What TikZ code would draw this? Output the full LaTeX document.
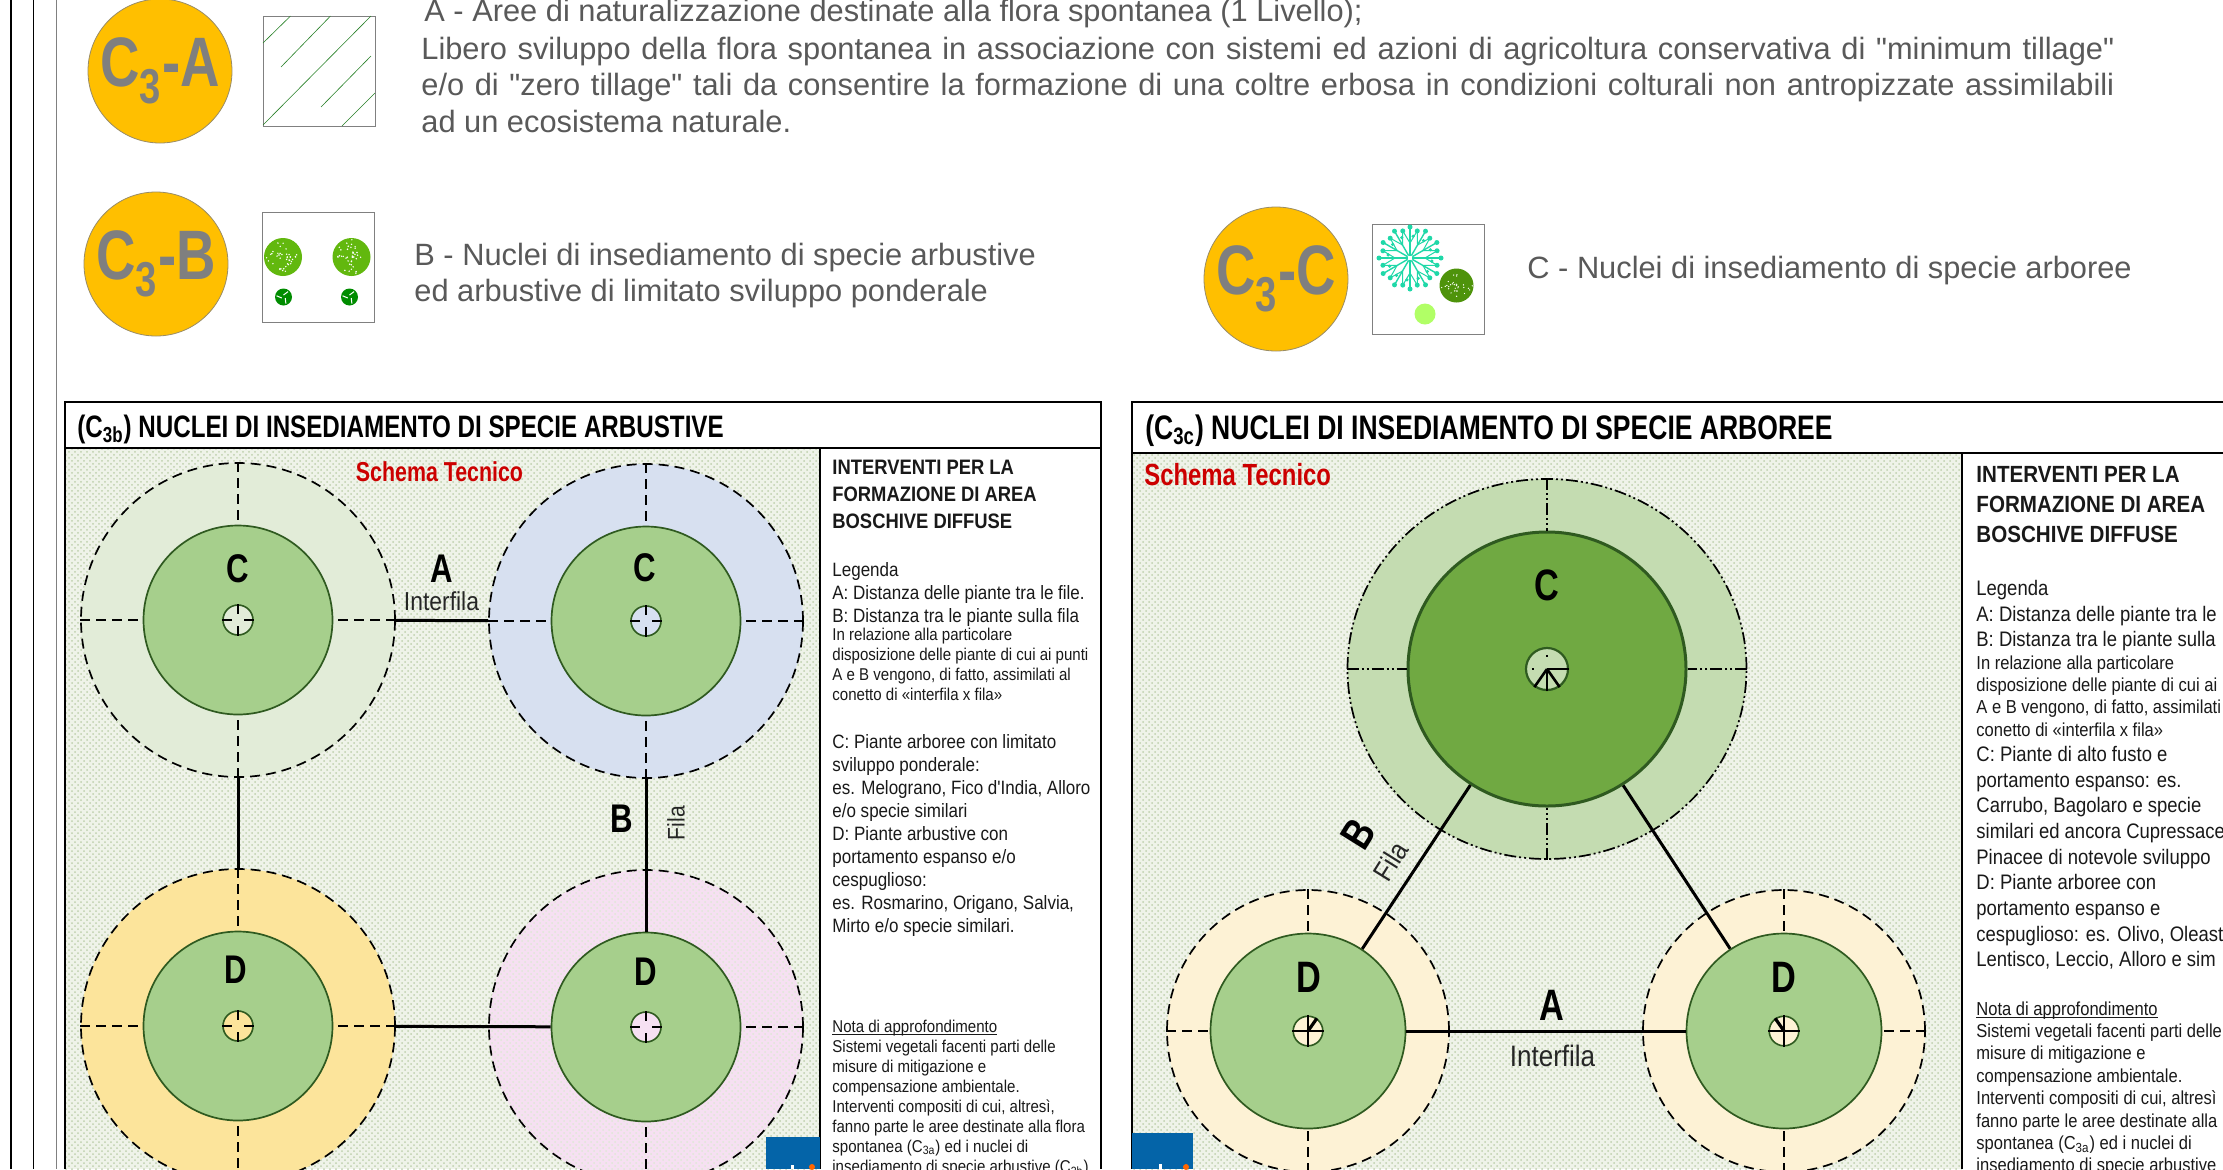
\documentclass[tikz,border=0pt]{standalone}
\usepackage{fontspec}
\setmainfont{Liberation Sans}
\newfontfamily\greyfont[Ligatures=TeXOff]{Liberation Sans}
\newfontfamily\titlefont[FakeStretch=0.78]{Liberation Sans}
\newfontfamily\sidefont[FakeStretch=0.88]{Liberation Sans}
\newfontfamily\goldfont[FakeStretch=0.78]{Liberation Sans}
\usetikzlibrary{shapes.geometric,patterns,backgrounds}
\definecolor{goldfill}{HTML}{FFBF00}
\definecolor{goldtext}{HTML}{7F7F7F}
\definecolor{greytext}{HTML}{595959}
\definecolor{paper}{HTML}{EFF3E9}
\definecolor{paperdot}{HTML}{BFD0AE}
\definecolor{innergreen}{HTML}{A6CF8C}
\definecolor{deepgreen}{HTML}{70A942}
\definecolor{edgegreen}{HTML}{2F5A20}
\definecolor{paleleaf}{HTML}{C4DCB1}
\definecolor{paleorange}{HTML}{FDF2D5}
\definecolor{leaf}{HTML}{62B80E}
\definecolor{tealtree}{HTML}{1FD8A8}
\definecolor{logoblue}{HTML}{0464A8}
\newcommand{\fsz}[2]{\fontsize{#1}{#2}\selectfont}
\newcommand{\ulnote}[1]{\setbox0\hbox{#1}\rlap{\rule[-1.1pt]{\wd0}{0.35pt}}\box0}
\tikzset{goldc/.style={circle,draw=goldtext!80!goldfill,fill=goldfill,minimum size=72pt,inner sep=0pt,text=goldtext,font=\goldfont\bfseries\fsz{35}{37}},
symbox/.style={rectangle,draw=gray,line width=0.5pt,minimum width=56pt,minimum height=55pt,inner sep=0pt},
outerc/.style={circle,draw=black,line width=0.85pt,dash pattern=on 5pt off 3pt,inner sep=0pt},
innerc/.style={circle,draw=edgegreen,fill=innergreen,line width=0.85pt,inner sep=0pt},
holec/.style={circle,draw=edgegreen,line width=0.8pt,inner sep=0pt},
crossline/.style={line width=0.85pt,dash pattern=on 5pt off 3pt},
holeline/.style={line width=0.75pt,shorten >=3pt},
solidline/.style={line width=1.5pt},
bigletter/.style={font=\titlefont\bfseries\fsz{20}{22},inner sep=0pt},
bigright/.style={font=\titlefont\bfseries\fsz{22}{24},inner sep=0pt},
smalllabel/.style={font=\sidefont\fsz{13}{15},inner sep=0pt,text=black!85},
schema/.style={font=\titlefont\bfseries\fsz{13.7}{15},text=red!80!black,inner sep=0pt},
panelhead/.style={font=\titlefont\bfseries\fsz{15.5}{18},anchor=west,inner sep=0pt},
sideblock/.style={anchor=north west,align=left,inner sep=0pt,text=black!90},
greyblock/.style={anchor=west,align=left,inner sep=0pt,text=greytext,font=\greyfont\fsz{15.4}{18.2}}}

\begin{document}
\begin{tikzpicture}[x=0.5pt,y=-0.5pt]
\useasboundingbox (0,0) rectangle (2223,1169);
\clip (0,0) rectangle (2223,1169);
\fill[white] (0,0) rectangle (2223,1169);

%page rules
\coordinate (v1a) at (11,0);  \coordinate (v1b) at (11,1169);
\coordinate (v2a) at (33.5,0);\coordinate (v2b) at (33.5,1169);
\coordinate (v3a) at (56,0);  \coordinate (v3b) at (56,1169);
\draw[line width=0.6pt] (v1a) -- (v1b);
\draw[line width=0.6pt] (v2a) -- (v2b);
\draw[line width=0.4pt,gray] (v3a) -- (v3b);

%legend a
\node[goldc] (ca) at (160,71) {C\textsubscript{3}-A};
\node[symbox] (boxa) at (319,71) {};
\draw[green!50!black!70!gray,line width=0.3pt] (263,43) -- (290.5,16) (281,67) -- (330.5,16) (263,125) -- (371,16) (321,107) -- (371,56) (342,126) -- (375,93);
\node[greyblock,anchor=base west] (ta0) at (424,21) {A - Aree di naturalizzazione destinate alla flora spontanea (1 Livello);};
\node[greyblock,anchor=base west] (ta1) at (421,59) {\makebox[846.5pt][s]{Libero sviluppo della flora spontanea in associazione con sistemi ed azioni di agricoltura conservativa di "minimum tillage"}};
\node[greyblock,anchor=base west] (ta2) at (421,95.5) {\makebox[846.5pt][s]{e/o di "zero tillage" tali da consentire la formazione di una coltre erbosa in condizioni colturali non antropizzate assimilabili}};
\node[greyblock,anchor=base west] (ta3) at (421,132) {ad un ecosistema naturale.};

%legend b
\node[goldc] (cb) at (156,264) {C\textsubscript{3}-B};
\node[symbox] (boxb) at (318.5,267.5) {};
\pgfmathsetseed{11}
\foreach \n/\x/\y in {b1/283/257,b2/351.5/257}{
  \node[circle,fill=leaf,minimum size=19pt,inner sep=0pt] (\n) at (\x,\y) {};
  \foreach \i in {1,...,40} \fill[white] ([shift={(rnd*360:rnd*18)}]\n) circle (0.8);
}
\foreach \n/\x/\y in {b3/283.5/297,b4/349.5/297}{
  \node[circle,fill=green!55!black,minimum size=8.5pt,inner sep=0pt] (\n) at (\x,\y) {};
  \foreach \a in {30,150,270} \draw[white,line width=0.5pt] ([shift={(\a:2)}]\n.center) -- ([shift={(\a+40:7)}]\n.center);
}
\node[greyblock] (tb) at (414,275.5) {B - Nuclei di insediamento di specie arbustive\\ed arbustive di limitato sviluppo ponderale};

%legend c
\node[goldc] (cc) at (1276,279) {C\textsubscript{3}-C};
\node[symbox] (boxc) at (1428,279.5) {};
\node[inner sep=0pt,minimum size=2pt] (tr) at (1410,258) {};
\foreach \a in {0,30,...,330}{
  \draw[tealtree,line width=0.7pt] (tr) -- ([shift={(\a:31)}]tr.center);
  \draw[tealtree,line width=0.5pt] ([shift={(\a:15)}]tr.center) -- ([shift={(\a+16:30)}]tr.center);
  \draw[tealtree,line width=0.5pt] ([shift={(\a:15)}]tr.center) -- ([shift={(\a-16:30)}]tr.center);
  \fill[tealtree] ([shift={(\a:31)}]tr.center) circle (2.5);
  \fill[tealtree] ([shift={(\a+15:28)}]tr.center) circle (2.5);
  \fill[tealtree] ([shift={(\a+8:22)}]tr.center) circle (1.8);
}
\node[circle,fill=leaf!80!black,minimum size=17pt,inner sep=0pt] (bl) at (1456.5,285.5) {};
\foreach \i in {1,...,30} \fill[white] ([shift={(rnd*360:rnd*16)}]bl) circle (0.7);
\node[circle,fill=green!35!lime!60!white,minimum size=10.5pt,inner sep=0pt] (bc) at (1425,314) {};
\node[greyblock] (tc) at (1527,271) {C - Nuclei di insediamento di specie arboree};

%left panel
\fill[paper] (65,448) rectangle (820,1169);
\fill[pattern=crosshatch dots,pattern color=paperdot] (65,448) rectangle (820,1169);
\draw[line width=0.8pt] (65,1169) -- (65,402) -- (1101,402) -- (1101,1169);
\draw[line width=0.8pt] (65,448) -- (1101,448);
\draw[line width=0.8pt] (820,448) -- (820,1169);
\node[panelhead] (h1) at (77,429) {(C\textsubscript{3b}) NUCLEI DI INSEDIAMENTO DI SPECIE ARBUSTIVE};
\node[schema] (s1) at (439.5,472) {Schema Tecnico};

\fill[logoblue] (766,1137) rectangle (820,1169);
\fill[white] (790.5,1165) rectangle (793.5,1169);
\fill[orange!80!red] (812,1167) circle (3);

\foreach \n/\x/\y/\c in {l1/238/620/E2ECD8,l2/646/621/D7E0F0,l3/238/1026/FCE49B,l4/646/1027/F6E0F2}{
  \definecolor{ringfill}{HTML}{\c}
  \node[outerc,fill=ringfill,minimum size=157pt] (\n) at (\x,\y) {};
}
\node[circle,pattern=crosshatch dots,pattern color=paperdot!50!white,minimum size=156pt,inner sep=0pt] (l4t) at (646,1027) {};
\foreach \n/\x/\y in {l1/238/620,l2/646/621,l3/238/1026,l4/646/1027}{
  \node[innerc,minimum size=94.5pt] (\n i) at (\x,\y) {};
}
\foreach \n/\x/\y/\c in {l1/238/620/E2ECD8,l2/646/621/D7E0F0,l3/238/1026/FCE49B,l4/646/1027/F6E0F2}{
  \definecolor{ringfill}{HTML}{\c}
  \node[holec,fill=ringfill,minimum size=15pt] (\n h) at (\x,\y) {};
  \foreach \p in {north,south,east,west}{
    \draw[crossline] (\n.\p) -- (\n i.\p);
    \draw[holeline] (\n h.\p) -- (\n h.center);
  }
}
\draw[solidline] (l1) -- (l2);
\draw[solidline] (l1) -- (l3);
\draw[solidline] (l2) -- (l4i);
\draw[solidline] (l3) -- (l4i);
\node[bigletter] (a1) at (441.5,569) {A};
\node[smalllabel] (a2) at (441.5,601) {Interfila};
\node[bigletter] (c1) at (237.5,569) {C};
\node[bigletter] (c2) at (644.5,568) {C};
\node[bigletter] (d1) at (235.5,970) {D};
\node[bigletter] (d2) at (645.5,972) {D};
\node[bigletter] (b1l) at (622,819) {B};
\node[smalllabel,font=\sidefont\fsz{12}{14},rotate=90] (f1) at (676,823) {Fila};

%left panel side text
\node[sideblock,font=\sidefont\bfseries\fsz{10.45}{13.5}] (sh1) at (832,460) {INTERVENTI PER LA\\FORMAZIONE DI AREA\\BOSCHIVE DIFFUSE};
\node[sideblock,font=\sidefont\fsz{9.66}{11.5}] (sl1) at (832,562) {Legenda\\A: Distanza delle piante tra le file.\\B: Distanza tra le piante sulla fila};
\node[sideblock,font=\sidefont\fsz{8.55}{10}] (sm1) at (832,628) {In relazione alla particolare\\disposizione delle piante di cui ai punti\\A e B vengono, di fatto, assimilati al\\conetto di «interfila x fila»};
\node[sideblock,font=\sidefont\fsz{9.66}{11.5}] (sc1) at (832,734) {C: Piante arboree con limitato\\sviluppo ponderale:\\es. Melograno, Fico d'India, Alloro\\e/o specie similari\\D: Piante arbustive con\\portamento espanso e/o\\cespuglioso:\\es. Rosmarino, Origano, Salvia,\\Mirto e/o specie similari.};
\node[sideblock,font=\sidefont\fsz{8.55}{10}] (sn1) at (832,1020) {\ulnote{Nota di approfondimento}\\Sistemi vegetali facenti parti delle\\misure di mitigazione e\\compensazione ambientale.\\Interventi compositi di cui, altresì,\\fanno parte le aree destinate alla flora\\spontanea (C\textsubscript{3a}) ed i nuclei di\\insediamento di specie arbustive (C\textsubscript{3b})};

%right panel
\fill[paper] (1132,453) rectangle (1962,1169);
\fill[pattern=crosshatch dots,pattern color=paperdot] (1132,453) rectangle (1962,1169);
\draw[line width=0.8pt] (1132,1169) -- (1132,402) -- (2223,402);
\draw[line width=0.8pt] (1132,453) -- (2223,453);
\draw[line width=0.8pt] (1962,453) -- (1962,1169);
\node[panelhead,font=\titlefont\bfseries\fsz{17}{19}] (h2) at (1145,431) {(C\textsubscript{3c}) NUCLEI DI INSEDIAMENTO DI SPECIE ARBOREE};
\node[schema,font=\titlefont\bfseries\fsz{15.3}{17},anchor=west] (s2) at (1144,474.5) {Schema Tecnico};

\fill[logoblue] (1132,1133) rectangle (1193,1169);
\fill[white] (1158.5,1164) rectangle (1161.5,1169);
\fill[orange!80!red] (1186,1167) circle (3);

\node[ellipse,draw=black,line width=0.85pt,dash pattern=on 6pt off 1.5pt on 1pt off 1.5pt on 1pt off 1.5pt,fill=paleleaf,inner sep=0pt,minimum width=199.5pt,minimum height=190pt] (r1) at (1547,669) {};
\node[ellipse,draw=edgegreen,fill=deepgreen,line width=1.5pt,inner sep=0pt,minimum width=139pt,minimum height=137pt] (r1i) at (1547,669) {};
\node[holec,line width=1.1pt,fill=paleleaf,minimum size=21pt] (r1h) at (1547,669) {};
\foreach \n/\x in {r2/1308,r3/1784}{
  \node[outerc,fill=paleorange,minimum size=141pt] (\n) at (\x,1031) {};
  \node[innerc,minimum size=97.5pt] (\n i) at (\x,1031) {};
  \node[holec,fill=paleorange,minimum size=14.8pt] (\n h) at (\x,1031) {};
  \foreach \p in {north,south,east,west} \draw[crossline] (\n.\p) -- (\n i.\p);
  \draw[line width=0.9pt] (\n h.west) -- (\n h.east);
  \draw[line width=0.7pt] (\n h.north) -- (\n h.south);
}
\draw[line width=1.6pt] (r2h.center) -- (r2h.55);
\draw[line width=1.6pt] (r3h.center) -- (r3h.125);
\foreach \p in {north,south,east,west}
  \draw[line width=1pt,dash pattern=on 6pt off 1.5pt on 1pt off 1.5pt on 1pt off 1.5pt] (r1.\p) -- (r1i.\p);
\draw[line width=1pt] (r1h.center) -- (r1h.east);
\foreach \p in {235,270,305} \draw[line width=1.3pt] (r1h.center) -- (r1h.\p);
\draw[line width=0.8pt,dash pattern=on 0pt off 4pt on 1.2pt off 20pt] (r1h.north) -- (r1h.center);
\draw[line width=0.8pt,dash pattern=on 0pt off 3.5pt on 1.2pt off 20pt] (r1h.west) -- (r1h.center);
\draw[solidline] (r2i) -- (r3i);
\draw[solidline] (r1i) -- (r2i);
\draw[solidline] (r1i) -- (r3i);
\node[bigright] (c3) at (1547,585) {C};
\node[bigright] (d3) at (1308.5,977) {D};
\node[bigright] (d4) at (1784,977.5) {D};
\node[bigright] (a3) at (1552,1005) {A};
\node[smalllabel,font=\sidefont\fsz{14.8}{16}] (a4) at (1552.5,1056) {Interfila};
\node[bigright,rotate=58] (b3) at (1358,834) {B};
\node[smalllabel,font=\sidefont\fsz{14}{16},rotate=58] (f3) at (1391,861) {Fila};

%right panel side text
\node[sideblock,font=\sidefont\bfseries\fsz{11.7}{15}] (sh2) at (1976,466) {INTERVENTI PER LA\\FORMAZIONE DI AREA\\BOSCHIVE DIFFUSE};
\node[sideblock,font=\sidefont\fsz{10.5}{12.7}] (sl2) at (1976,580) {Legenda\\A: Distanza delle piante tra le\\B: Distanza tra le piante sulla};
\node[sideblock,font=\sidefont\fsz{9.4}{11.2}] (sm2) at (1976,655) {In relazione alla particolare\\disposizione delle piante di cui ai\\A e B vengono, di fatto, assimilati\\conetto di «interfila x fila»};
\node[sideblock,font=\sidefont\fsz{10.5}{12.82}] (sc2) at (1976,746) {C: Piante di alto fusto e\\portamento espanso: es.\\Carrubo, Bagolaro e specie\\similari ed ancora Cupressace\\Pinacee di notevole sviluppo\\D: Piante arboree con\\portamento espanso e\\cespuglioso: es. Olivo, Oleast\\Lentisco, Leccio, Alloro e sim};
\node[sideblock,font=\sidefont\fsz{9.4}{11.2}] (sn2) at (1976,1001) {\ulnote{Nota di approfondimento}\\Sistemi vegetali facenti parti delle\\misure di mitigazione e\\compensazione ambientale.\\Interventi compositi di cui, altresì\\fanno parte le aree destinate alla\\spontanea (C\textsubscript{3a}) ed i nuclei di\\insediamento di specie arbustive};
\end{tikzpicture}
\end{document}
